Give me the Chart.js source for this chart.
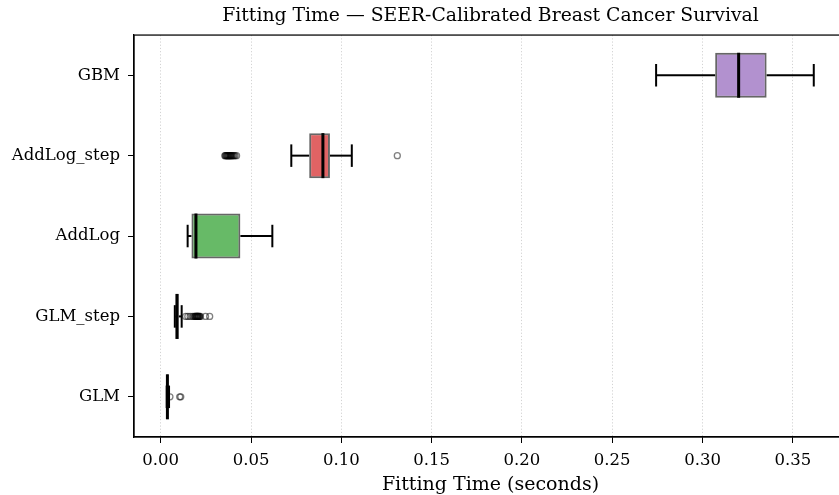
<!DOCTYPE html>
<html>
<head>
<meta charset="utf-8">
<script src="https://cdn.jsdelivr.net/npm/chart.js@4/dist/chart.umd.min.js"></script>
<style>
  html, body { margin: 0; padding: 0; background: #fff; overflow: hidden; }
</style>
</head>
<body>
<canvas id="timeChart" width="848" height="495"></canvas>
<script>
// box-plot summary per model (seconds), top row first
const models = ['GBM', 'AddLog_step', 'AddLog', 'GLM_step', 'GLM'];
const whiskerLow = [0.2743, 0.0723, 0.0149, 0.0078, 0.0033];
const q1 = [0.3070, 0.0822, 0.0170, 0.0082, 0.0035];
const median = [0.3200, 0.0898, 0.0195, 0.0090, 0.0037];
const q3 = [0.3355, 0.0937, 0.0441, 0.0100, 0.0040];
const whiskerHigh = [0.3616, 0.1058, 0.0618, 0.0116, 0.0046];
const outliers = [
  [],
  [0.0355, 0.0358, 0.0362, 0.0365, 0.0368, 0.0371, 0.0374, 0.0377, 0.0380, 0.0383, 0.0386,
   0.0389, 0.0392, 0.0396, 0.0401, 0.0406, 0.0412, 0.0420, 0.1310],
  [],
  [0.0138, 0.0150, 0.0163, 0.0176, 0.0185, 0.0189, 0.0192, 0.0195, 0.0197, 0.0199, 0.0201,
   0.0203, 0.0205, 0.0207, 0.0209, 0.0212, 0.0215, 0.0220, 0.0248, 0.0271],
  [0.0051, 0.0105, 0.0111]
];
const boxColors = [
  'rgba(148,103,189,0.72)',
  'rgba(214,39,40,0.72)',
  'rgba(44,160,44,0.72)',
  'rgba(31,119,180,0.72)',
  'rgba(255,127,14,0.72)'
];

Chart.defaults.font.family = "'DejaVu Serif', serif";
Chart.defaults.color = '#000';

// whiskers, caps, medians, fliers and the axes frame
const boxWhiskers = {
  id: 'boxWhiskers',
  afterDatasetsDraw(chart) {
    const { ctx, scales: { x, y } } = chart;
    const bars = chart.getDatasetMeta(0).data;
    const seg = (x1, y1, x2, y2) => {
      ctx.beginPath();
      ctx.moveTo(x1, y1);
      ctx.lineTo(x2, y2);
      ctx.stroke();
    };
    ctx.save();
    models.forEach((m, i) => {
      const cy = y.getPixelForValue(i);
      const half = bars[i].height / 2;
      const cap = half / 2;
      const xlo = x.getPixelForValue(whiskerLow[i]);
      const xhi = x.getPixelForValue(whiskerHigh[i]);
      ctx.strokeStyle = '#000';
      ctx.lineWidth = 2;
      seg(xlo, cy, x.getPixelForValue(q1[i]), cy);
      seg(x.getPixelForValue(q3[i]), cy, xhi, cy);
      seg(xlo, cy - cap, xlo, cy + cap);
      seg(xhi, cy - cap, xhi, cy + cap);
      ctx.lineWidth = 3;
      const xm = x.getPixelForValue(median[i]);
      seg(xm, cy - half, xm, cy + half);
      ctx.lineWidth = 1.3;
      ctx.strokeStyle = 'rgba(0,0,0,0.5)';
      outliers[i].forEach(v => {
        ctx.beginPath();
        ctx.arc(x.getPixelForValue(v), cy, 3, 0, Math.PI * 2);
        ctx.stroke();
      });
    });
    ctx.restore();
  },
  afterDraw(chart) {
    const { ctx, chartArea: a } = chart;
    ctx.save();
    ctx.strokeStyle = '#000';
    ctx.lineWidth = 1.25;
    ctx.strokeRect(a.left, a.top, a.right - a.left, a.bottom - a.top);
    ctx.restore();
  }
};

new Chart(document.getElementById('timeChart'), {
  type: 'bar',
  data: {
    labels: models,
    datasets: [{
      data: models.map((m, i) => [q1[i], q3[i]]),
      backgroundColor: boxColors,
      borderColor: 'rgba(0,0,0,0.6)',
      borderWidth: 2,
      borderSkipped: false,
      barPercentage: 0.56,
      categoryPercentage: 1
    }]
  },
  options: {
    indexAxis: 'y',
    responsive: false,
    animation: false,
    devicePixelRatio: 1,
    layout: { padding: { left: 0, right: 1, top: 0, bottom: 0 } },
    plugins: {
      legend: { display: false },
      tooltip: { enabled: false },
      title: {
        display: true,
        fullSize: false,
        text: 'Fitting Time \u2014 SEER-Calibrated Breast Cancer Survival',
        font: { size: 18.8, weight: 'normal', lineHeight: 1.2 },
        padding: { top: 5, bottom: 7.5 }
      }
    },
    scales: {
      x: {
        type: 'linear',
        min: -0.0148,
        max: 0.380,
        afterFit(scale) { scale.height = 58; },
        ticks: {
          stepSize: 0.05,
          includeBounds: false,
          padding: 8,
          font: { size: 16.5 },
          callback: v => v.toFixed(2)
        },
        grid: {
          color: 'rgba(176,176,176,0.7)',
          lineWidth: 0.8,
          tickColor: '#000',
          tickLength: 6,
          tickWidth: 1
        },
        border: { color: '#000', width: 1.25, dash: [1.2, 2] },
        title: {
          display: true,
          text: 'Fitting Time (seconds)',
          font: { size: 19, lineHeight: 1.0 },
          padding: { top: 0, bottom: 0 }
        }
      },
      y: {
        afterFit(scale) { scale.width = 134; },
        ticks: { padding: 8, font: { size: 16.5 } },
        grid: {
          offset: false,
          drawOnChartArea: false,
          tickColor: '#000',
          tickLength: 6,
          tickWidth: 1
        },
        border: { color: '#000', width: 1.25 }
      }
    }
  },
  plugins: [boxWhiskers]
});
</script>
</body>
</html>
